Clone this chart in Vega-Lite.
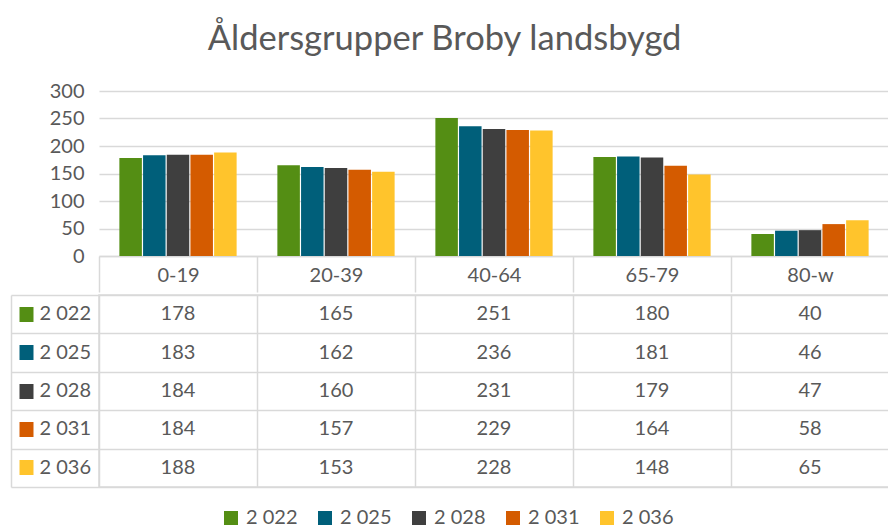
{
  "$schema": "https://vega.github.io/schema/vega-lite/v6.json",
  "padding": {"left": 9, "top": 21, "right": 0, "bottom": 0},
  "title": {"text": "Åldersgrupper Broby landsbygd", "fontSize": 34.5, "font": "Lato", "fontWeight": "normal", "color": "#595959", "anchor": "middle", "offset": 24, "dx": -5},
  "data": {"values": [
    {"cat": "0-19", "year": "2 022", "value": 178},
    {"cat": "0-19", "year": "2 025", "value": 183},
    {"cat": "0-19", "year": "2 028", "value": 184},
    {"cat": "0-19", "year": "2 031", "value": 184},
    {"cat": "0-19", "year": "2 036", "value": 188},
    {"cat": "20-39", "year": "2 022", "value": 165},
    {"cat": "20-39", "year": "2 025", "value": 162},
    {"cat": "20-39", "year": "2 028", "value": 160},
    {"cat": "20-39", "year": "2 031", "value": 157},
    {"cat": "20-39", "year": "2 036", "value": 153},
    {"cat": "40-64", "year": "2 022", "value": 251},
    {"cat": "40-64", "year": "2 025", "value": 236},
    {"cat": "40-64", "year": "2 028", "value": 231},
    {"cat": "40-64", "year": "2 031", "value": 229},
    {"cat": "40-64", "year": "2 036", "value": 228},
    {"cat": "65-79", "year": "2 022", "value": 180},
    {"cat": "65-79", "year": "2 025", "value": 181},
    {"cat": "65-79", "year": "2 028", "value": 179},
    {"cat": "65-79", "year": "2 031", "value": 164},
    {"cat": "65-79", "year": "2 036", "value": 148},
    {"cat": "80-w", "year": "2 022", "value": 40},
    {"cat": "80-w", "year": "2 025", "value": 46},
    {"cat": "80-w", "year": "2 028", "value": 47},
    {"cat": "80-w", "year": "2 031", "value": 58},
    {"cat": "80-w", "year": "2 036", "value": 65}
  ]},
  "spacing": 0,
  "vconcat": [
    {
      "width": 790,
      "height": 165,
      "mark": {"type": "bar"},
      "encoding": {
        "x": {"field": "cat", "type": "nominal", "sort": ["0-19", "20-39", "40-64", "65-79", "80-w"],
          "scale": {"paddingInner": 0, "paddingOuter": 0},
          "axis": {"title": null, "orient": "bottom", "labelAngle": 0, "tickBand": "extent", "ticks": true, "tickSize": 36, "tickColor": "#d9d9d9", "tickWidth": 1.5, "domain": true, "domainColor": "#d9d9d9", "domainWidth": 1.5, "labelBaseline": "middle", "labelPadding": -17, "grid": false}},
        "xOffset": {"field": "year", "type": "nominal", "sort": ["2 022", "2 025", "2 028", "2 031", "2 036"], "scale": {"paddingInner": 0.05, "paddingOuter": 0.86}},
        "y": {"field": "value", "type": "quantitative", "scale": {"domain": [0, 300], "nice": false},
          "axis": {"title": null, "values": [0, 50, 100, 150, 200, 250, 300], "grid": true, "domain": false, "ticks": false, "labelPadding": 15}},
        "color": {"field": "year", "type": "nominal", "sort": ["2 022", "2 025", "2 028", "2 031", "2 036"],
          "scale": {"domain": ["2 022", "2 025", "2 028", "2 031", "2 036"], "range": ["#548E14", "#005F7A", "#3F3F3F", "#D45B00", "#FFC42C"]},
          "legend": {"title": null, "orient": "none", "legendX": 122, "legendY": 417, "direction": "horizontal", "symbolType": "square", "symbolSize": 196, "symbolStrokeWidth": 0, "labelFontSize": 20, "labelColor": "#595959", "labelFont": "Lato", "columnPadding": 17, "labelOffset": 5}}
      }
    },
    {
      "width": 790,
      "height": 192,
      "view": {"stroke": "#d9d9d9", "strokeWidth": 1.5},
      "layer": [
        {
          "mark": {"type": "text", "fontSize": 20, "color": "#595959", "font": "Lato"},
          "encoding": {
            "x": {"field": "cat", "type": "nominal", "sort": ["0-19", "20-39", "40-64", "65-79", "80-w"],
              "scale": {"paddingInner": 0, "paddingOuter": 0},
              "axis": {"title": null, "orient": "top", "labels": false, "ticks": false, "domain": false, "grid": true, "tickBand": "extent", "gridColor": "#d9d9d9", "gridWidth": 1.5}},
            "y": {"field": "year", "type": "nominal", "sort": ["2 022", "2 025", "2 028", "2 031", "2 036"],
              "scale": {"paddingInner": 0, "paddingOuter": 0},
              "axis": {"title": null, "orient": "left", "tickBand": "extent", "grid": true, "gridColor": "#d9d9d9", "gridWidth": 1.5, "labels": false, "domain": true, "domainColor": "#d9d9d9", "domainWidth": 1.5, "offset": 88, "ticks": true, "tickSize": -88, "tickColor": "#d9d9d9", "tickWidth": 1.5}},
            "text": {"field": "value", "type": "quantitative"}
          }
        },
        {
          "mark": {"type": "text"},
          "encoding": {
            "y": {"field": "year", "type": "nominal", "sort": ["2 022", "2 025", "2 028", "2 031", "2 036"],
              "axis": {"title": null, "orient": "left", "offset": 66, "domain": false, "grid": false, "ticks": true, "tickSize": 14, "tickWidth": 15, "tickCap": "butt",
                "tickColor": {"condition": [
                  {"test": "datum.value === '2 022'", "value": "#548E14"},
                  {"test": "datum.value === '2 025'", "value": "#005F7A"},
                  {"test": "datum.value === '2 028'", "value": "#3F3F3F"},
                  {"test": "datum.value === '2 031'", "value": "#D45B00"}
                ], "value": "#FFC42C"},
                "labels": true, "labelAlign": "left", "labelPadding": -20, "labelFontSize": 20, "labelColor": "#595959", "labelFont": "Lato"}}
          }
        }
      ],
      "resolve": {"axis": {"y": "independent"}}
    }
  ],
  "config": {
    "view": {"stroke": null},
    "font": "Lato",
    "axis": {"labelFont": "Lato", "labelFontSize": 20, "labelColor": "#595959", "gridColor": "#d9d9d9", "gridWidth": 1.3}
  }
}
